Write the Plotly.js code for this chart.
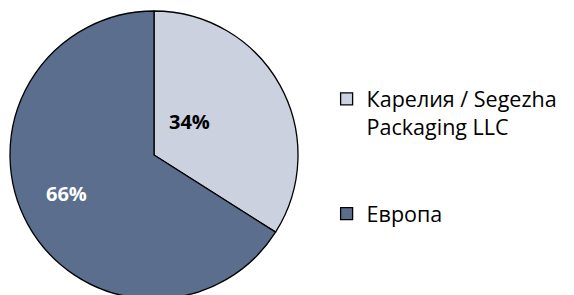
<!DOCTYPE html>
<html>
<head>
<meta charset="utf-8">
<script src="https://cdn.plot.ly/plotly-3.0.1.min.js"></script>
<style>
html,body{margin:0;padding:0;overflow:hidden;background:#fff;}
#chart{width:574px;height:299px;}
</style>
</head>
<body>
<div id="chart"></div>
<script>
const labels = ["Карелия / Segezha<br>Packaging LLC<br>&nbsp;<br>&nbsp;", "Европа"];
const values = [34, 66];
const colors = ["#CBD1DF", "#5B6E8E"];
const labelColors = ["#000000", "#FFFFFF"];
const labelPos = [[0.3293, 0.618], [0.115, 0.3646]];

const total = values.reduce((a, b) => a + b, 0);
const FONT = "'Open Sans', sans-serif";

const annotations = values.map((v, i) => ({
  text: "<b>" + Math.round(v / total * 100) + "%</b>",
  x: labelPos[i][0], y: labelPos[i][1],
  xref: "paper", yref: "paper",
  xanchor: "center", yanchor: "middle",
  showarrow: false,
  font: {family: FONT, size: 20, color: labelColors[i]}
}));

const trace = {
  type: "pie",
  labels: labels,
  values: values,
  sort: false,
  direction: "clockwise",
  rotation: 0,
  textinfo: "none",
  hoverinfo: "none",
  marker: {colors: colors, line: {color: "#000000", width: 1.3}},
  domain: {x: [10/574, 298/574], y: [0, 1]}
};

const layout = {
  width: 574, height: 299,
  margin: {l: 0, r: 0, t: 11, b: 0},
  paper_bgcolor: "#ffffff",
  showlegend: true,
  legend: {
    x: 0.569, y: 0.766, xanchor: "left", yanchor: "top",
    valign: "top",
    font: {family: FONT, size: 21.5, color: "#000000"},
    bgcolor: "rgba(0,0,0,0)"
  },
  annotations: annotations
};

Plotly.newPlot("chart", [trace], layout, {displayModeBar: false, staticPlot: true});
</script>
</body>
</html>
